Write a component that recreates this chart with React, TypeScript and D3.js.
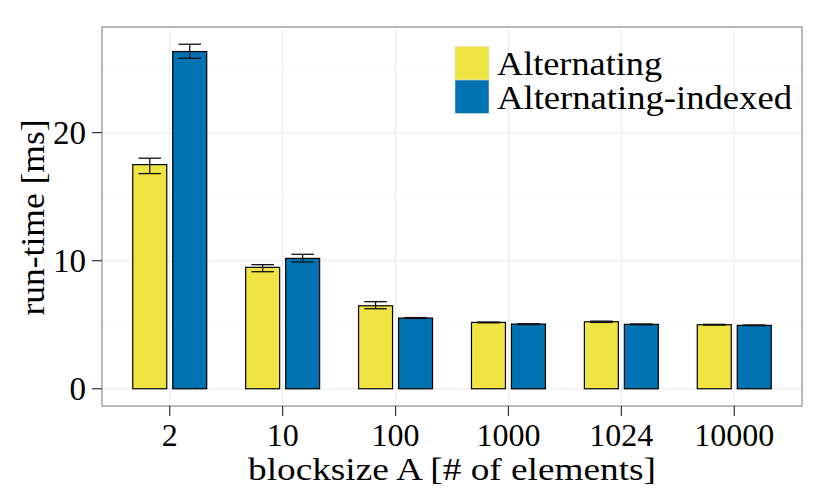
import React from "react";
import * as d3 from "d3";

const categories = ["2", "10", "100", "1000", "1024", "10000"];
const seriesNames = ["Alternating", "Alternating-indexed"];
const seriesColors = ["#F0E442", "#0072B2"];

// mean run-time and error bar ends (ms)
const altMean = [17.5, 9.48, 6.48, 5.18, 5.23, 5.0];
const altLow = [16.8, 9.14, 6.25, 5.15, 5.18, 4.97];
const altHigh = [18.0, 9.69, 6.8, 5.21, 5.28, 5.03];
const idxMean = [26.33, 10.18, 5.52, 5.05, 5.03, 4.95];
const idxLow = [25.8, 9.9, 5.49, 5.01, 5.0, 4.93];
const idxHigh = [26.9, 10.5, 5.56, 5.08, 5.06, 4.98];

const yTicks = [0, 10, 20];
const yMinor = [5, 15, 25];

const W = 830;
const H = 498;
const panel = { left: 102, right: 802, top: 27, bottom: 406 };
const font = "'Liberation Serif', 'Times New Roman', serif";
// label widths in the original (Computer Modern runs wider than Times)
const legendWidths = [165, 295];

const rows = categories.flatMap((c, i) => [
  { cat: c, series: seriesNames[0], mean: altMean[i], low: altLow[i], high: altHigh[i] },
  { cat: c, series: seriesNames[1], mean: idxMean[i], low: idxLow[i], high: idxHigh[i] },
]);

const App: React.FC = () => {
  const yMax = d3.max(rows, (d) => d.high) ?? 0;
  const pad = yMax * 0.05;

  const y = d3
    .scaleLinear()
    .domain([-pad, yMax + pad])
    .range([panel.bottom, panel.top]);

  const x = d3
    .scaleBand<string>()
    .domain(categories)
    .range([panel.left, panel.right])
    .paddingInner(0.345)
    .paddingOuter(0.2725);

  const xs = d3
    .scaleBand<string>()
    .domain(seriesNames)
    .range([0, x.bandwidth()])
    .paddingInner(0.15);

  const color = d3.scaleOrdinal<string, string>().domain(seriesNames).range(seriesColors);

  const capW = x.step() * 0.2;
  const center = (c: string) => (x(c) ?? 0) + x.bandwidth() / 2;

  return (
    <svg width={W} height={H} style={{ position: "absolute", left: 0, top: 0, background: "#fff" }}>
      <rect x={0} y={0} width={W} height={H} fill="#fff" />
      {/* grid */}
      {yMinor.map((t) => (
        <line key={"mn" + t} x1={panel.left} x2={panel.right} y1={y(t)} y2={y(t)} stroke="#fafafa" strokeWidth={1} />
      ))}
      {yTicks.map((t) => (
        <line key={"mj" + t} x1={panel.left} x2={panel.right} y1={y(t)} y2={y(t)} stroke="#ebebeb" strokeWidth={1} />
      ))}
      {categories.map((c) => (
        <line key={"vx" + c} x1={center(c)} x2={center(c)} y1={panel.top} y2={panel.bottom} stroke="#ebebeb" strokeWidth={1} />
      ))}

      {/* bars */}
      {rows.map((d) => (
        <rect
          key={"b" + d.cat + d.series}
          x={(x(d.cat) ?? 0) + (xs(d.series) ?? 0)}
          y={y(d.mean)}
          width={xs.bandwidth()}
          height={y(0) - y(d.mean)}
          fill={color(d.series)}
          stroke="#000"
          strokeWidth={1.2}
        />
      ))}

      {/* error bars */}
      {rows.map((d) => {
        const cx = (x(d.cat) ?? 0) + (xs(d.series) ?? 0) + xs.bandwidth() / 2;
        return (
          <g key={"e" + d.cat + d.series} stroke="#111" strokeWidth={1.3}>
            <line x1={cx} x2={cx} y1={y(d.low)} y2={y(d.high)} />
            <line x1={cx - capW / 2} x2={cx + capW / 2} y1={y(d.low)} y2={y(d.low)} />
            <line x1={cx - capW / 2} x2={cx + capW / 2} y1={y(d.high)} y2={y(d.high)} />
          </g>
        );
      })}

      {/* panel border */}
      <rect
        x={panel.left}
        y={panel.top}
        width={panel.right - panel.left}
        height={panel.bottom - panel.top}
        fill="none"
        stroke="#7f7f7f"
        strokeWidth={1.1}
      />

      {/* y axis */}
      {yTicks.map((t) => (
        <g key={"yt" + t}>
          <line x1={panel.left - 10} x2={panel.left} y1={y(t)} y2={y(t)} stroke="#333" strokeWidth={1.2} />
          <text x={86} y={y(t) + 11.5} textAnchor="end" fontFamily={font} fontSize={33} fill="#000">
            {t}
          </text>
        </g>
      ))}
      <text
        transform={`translate(44, ${(panel.top + panel.bottom) / 2 + 1}) rotate(-90)`}
        textAnchor="middle"
        fontFamily={font}
        fontSize={33}
        textLength={196}
        lengthAdjust="spacingAndGlyphs"
        fill="#000"
      >
        run-time [ms]
      </text>

      {/* x axis */}
      {categories.map((c) => (
        <g key={"xt" + c}>
          <line x1={center(c)} x2={center(c)} y1={panel.bottom} y2={panel.bottom + 10} stroke="#333" strokeWidth={1.2} />
          <text x={center(c)} y={446} textAnchor="middle" fontFamily={font} fontSize={32} fill="#000">
            {c}
          </text>
        </g>
      ))}
      <text
        x={452}
        y={480}
        textAnchor="middle"
        fontFamily={font}
        fontSize={31}
        textLength={408}
        lengthAdjust="spacingAndGlyphs"
        fill="#000"
      >
        blocksize A [# of elements]
      </text>

      {/* legend */}
      {seriesNames.map((s, i) => (
        <g key={"lg" + s} transform={`translate(455, ${46.5 + i * 33.5})`}>
          <rect x={0} y={0} width={34} height={33.5} fill={color(s)} stroke="#ddd" strokeWidth={0.6} />
          <text
            x={42}
            y={28.5}
            fontFamily={font}
            fontSize={33}
            textLength={legendWidths[i]}
            lengthAdjust="spacingAndGlyphs"
            fill="#000"
          >
            {s}
          </text>
        </g>
      ))}
    </svg>
  );
};

export default App;
